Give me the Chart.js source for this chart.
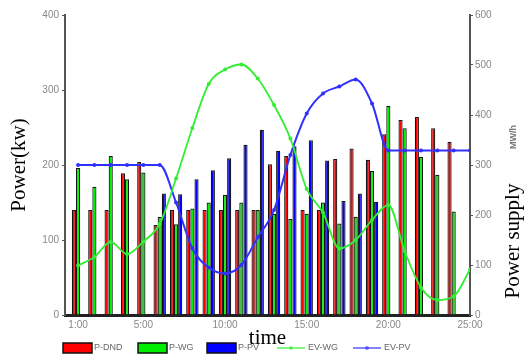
<!DOCTYPE html>
<html>
<head>
<meta charset="utf-8">
<script src="https://cdn.jsdelivr.net/npm/chart.js@4.4.1/dist/chart.umd.min.js"></script>
<style>
    body { margin: 0; background: #ffffff; }
    canvas { display: block; }
</style>
</head>
<body>
<canvas id="power-chart" width="525" height="356"></canvas>
<script>
// ===== Data =====
const barHours = [1, 2, 3, 4, 5, 6, 7, 8, 9, 10, 11, 12, 13, 14, 15, 16, 17, 18, 19, 20, 21, 22, 23, 24];
const lineHours = [1, 2, 3, 4, 5, 6, 7, 8, 9, 10, 11, 12, 13, 14, 15, 16, 17, 18, 19, 20, 21, 22, 23, 24, 25];
const tickHours = [1, 5, 10, 15, 20, 25];

const pDND = [140, 140, 140, 189, 204, 120, 140, 140, 140, 140, 140, 140, 201, 212, 140, 140, 208, 222, 207, 241, 260, 264, 249, 231];
const pWG = [196, 171, 212, 181, 190, 131, 121, 142, 150, 160, 150, 140, 135, 128, 135, 150, 122, 131, 192, 279, 249, 211, 187, 138];
const pPV = [0, 0, 0, 0, 0, 162, 161, 181, 193, 209, 227, 247, 219, 225, 233, 206, 152, 162, 151, 0, 0, 0, 0, 0];

const evWG = [99, 116, 146, 122, 147, 182, 273, 374, 462, 491, 501, 473, 420, 353, 252, 205, 133, 150, 190, 220, 128, 55, 30, 37, 91];
const evPV = [300, 300, 300, 300, 300, 300, 225, 133, 95, 83, 100, 155, 210, 320, 403, 443, 457, 471, 423, 329, 329, 329, 329, 329, 329];

const leftTicks = [0, 100, 200, 300, 400];
const rightTicks = [0, 100, 200, 300, 400, 500, 600];

// ===== Helpers =====
function toPoints(xs, ys) {
    return xs.map((x, i) => ({ x: x, y: ys[i] }));
}

function barSet(label, values, color) {
    return {
        type: 'bar',
        label: label,
        data: toPoints(barHours, values),
        yAxisID: 'y',
        backgroundColor: color,
        borderColor: '#141414',
        borderWidth: 1.2,
        borderSkipped: 'start',
        categoryPercentage: 0.76,
        barPercentage: 1.0,
        order: 2
    };
}

function lineSet(label, values, color, width) {
    return {
        type: 'line',
        label: label,
        data: toPoints(lineHours, values),
        yAxisID: 'y1',
        borderColor: color,
        backgroundColor: color,
        borderWidth: width,
        pointRadius: 2,
        pointBorderWidth: 0,
        cubicInterpolationMode: 'monotone',
        order: 1
    };
}

// bottom legend, drawn by hand so the items sit where the original has them
const legendPlugin = {
    id: 'bottomLegend',
    afterDraw(chart) {
        const ctx = chart.ctx;
        const sets = chart.data.datasets;
        const slots = [63, 138, 207, 277, 353];
        const y = 348;
        ctx.save();
        ctx.font = '9px "Liberation Sans", Arial, sans-serif';
        ctx.textBaseline = 'middle';
        sets.forEach((ds, i) => {
            const x = slots[i];
            if (ds.type === 'bar') {
                ctx.fillStyle = ds.backgroundColor;
                ctx.fillRect(x, y - 5, 29, 10);
                ctx.strokeStyle = '#111';
                ctx.lineWidth = 1.5;
                ctx.strokeRect(x, y - 5, 29, 10);
            } else {
                ctx.strokeStyle = ds.borderColor;
                ctx.globalAlpha = 0.6;
                ctx.lineWidth = 2;
                ctx.beginPath();
                ctx.moveTo(x, y);
                ctx.lineTo(x + 28, y);
                ctx.stroke();
                ctx.beginPath();
                ctx.arc(x + 14, y, 2, 0, Math.PI * 2);
                ctx.fillStyle = ds.borderColor;
                ctx.fill();
                ctx.globalAlpha = 1;
            }
            ctx.fillStyle = '#666';
            ctx.fillText(ds.label, x + 31, y);
        });
        ctx.restore();
    }
};

// right side title and unit text
const rightTitlePlugin = {
    id: 'rightTitle',
    afterDraw(chart) {
        const ctx = chart.ctx;
        ctx.save();
        ctx.textAlign = 'center';
        ctx.textBaseline = 'middle';
        ctx.translate(513, 241);
        ctx.rotate(-Math.PI / 2);
        ctx.fillStyle = '#000';
        ctx.font = '21px "Liberation Serif", "Times New Roman", serif';
        ctx.fillText('Power supply', 0, 0);
        ctx.restore();

        ctx.save();
        ctx.textAlign = 'center';
        ctx.textBaseline = 'middle';
        ctx.translate(514, 137);
        ctx.rotate(-Math.PI / 2);
        ctx.fillStyle = '#777';
        ctx.font = 'bold 9px "Liberation Sans", Arial, sans-serif';
        ctx.fillText('MW/h', 0, 0);
        ctx.restore();
    }
};

function initPowerChart() {
    const canvas = document.getElementById('power-chart');
    const ctx = canvas.getContext('2d');

    const tickFont = { family: '"Liberation Sans", Arial, sans-serif', size: 10 };
    const serifFont = { family: '"Liberation Serif", "Times New Roman", serif', size: 21 };

    new Chart(ctx, {
        type: 'bar',
        data: {
            datasets: [
                barSet('P-DND', pDND, '#ff0000'),
                barSet('P-WG', pWG, '#00ee00'),
                barSet('P-PV', pPV, '#0000ff'),
                lineSet('EV-WG', evWG, '#33ee33', 1.8),
                lineSet('EV-PV', evPV, '#3030ff', 2)
            ]
        },
        options: {
            responsive: false,
            animation: false,
            layout: { padding: { top: 15, left: 0, right: 0, bottom: 0 } },
            plugins: {
                legend: { display: false },
                tooltip: { enabled: false }
            },
            scales: {
                x: {
                    type: 'linear',
                    min: 0.2,
                    max: 25,
                    offset: false,
                    afterFit: scale => { scale.height = 41; },
                    afterBuildTicks: scale => { scale.ticks = tickHours.map(v => ({ value: v })); },
                    ticks: {
                        font: tickFont,
                        color: '#888',
                        padding: 4,
                        maxRotation: 0,
                        callback: v => v + ':00'
                    },
                    grid: { display: false, drawTicks: false, offset: false },
                    border: { color: '#222', width: 3 },
                    title: {
                        display: true,
                        text: 'time',
                        font: serifFont,
                        color: '#000',
                        padding: { top: 0, bottom: 5 }
                    }
                },
                y: {
                    position: 'left',
                    min: 0,
                    max: 400,
                    afterFit: scale => { scale.width = 65; },
                    afterBuildTicks: scale => { scale.ticks = leftTicks.map(v => ({ value: v })); },
                    ticks: { font: tickFont, color: '#888', padding: 3 },
                    grid: { drawOnChartArea: false, tickLength: 3, color: '#555' },
                    border: { color: '#555', width: 2 },
                    title: {
                        display: true,
                        text: 'Power(kw)',
                        font: serifFont,
                        color: '#000',
                        padding: { top: 7, bottom: 0 }
                    }
                },
                y1: {
                    position: 'right',
                    min: 0,
                    max: 600,
                    afterFit: scale => { scale.width = 55; },
                    afterBuildTicks: scale => { scale.ticks = rightTicks.map(v => ({ value: v })); },
                    ticks: { font: tickFont, color: '#888', padding: 2 },
                    grid: { drawOnChartArea: false, tickLength: 3, color: '#555' },
                    border: { color: '#555', width: 2 }
                }
            }
        },
        plugins: [legendPlugin, rightTitlePlugin]
    });
}

initPowerChart();
</script>
</body>
</html>
